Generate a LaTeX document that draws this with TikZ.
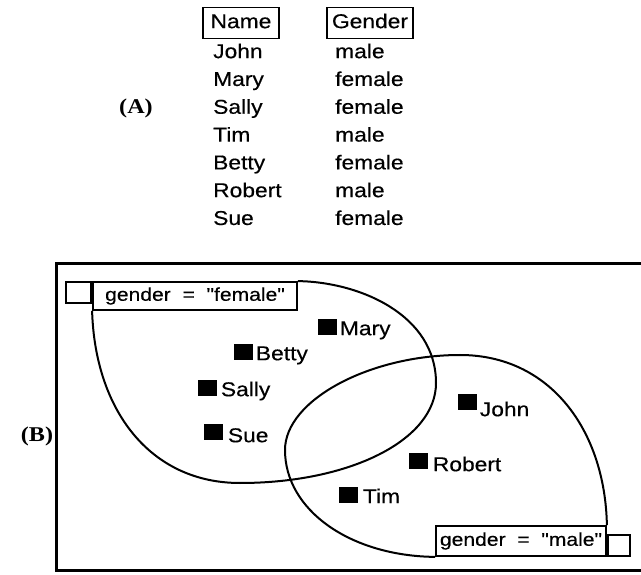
\documentclass[tikz,border=0pt]{standalone}
\usepackage{fontspec}
\setmainfont{Liberation Sans}[Ligatures=TeXOff,FakeStretch=1.14,FakeBold=0.4]
\newfontfamily\tagfont{Liberation Serif}[FakeStretch=1.15]
\usetikzlibrary{positioning}
\begin{document}
\begin{tikzpicture}[x=1pt,y=-1pt,
    txt/.style={inner sep=0pt,font=\fontsize{20}{23}\selectfont,text height=14.3pt,text depth=4pt},
    hdr/.style={txt,draw,line width=1.8pt,minimum height=31pt},
    cell/.style={txt,anchor=west},
    tagl/.style={inner sep=0pt,font=\tagfont\bfseries\fontsize{21}{25}\selectfont},
    gbox/.style={draw,line width=1.8pt,inner sep=0pt,font=\fontsize{18.5}{22}\selectfont},
    tab/.style={draw,line width=1.8pt,inner sep=0pt},
    mem/.style={fill=black,inner sep=0pt,minimum width=19pt,minimum height=16pt},
    who/.style={inner sep=0pt,anchor=base west,font=\fontsize{20}{23}\selectfont},
    set/.style={line width=2pt}
]
\useasboundingbox (0,0) rectangle (641,575);

% (A) table
\node[tagl] (taga) at (136,108) {(A)};
\node[hdr,minimum width=76pt] (namehd) at (241,23) {Name};
\node[hdr,minimum width=86pt] (gendhd) at (370,23) {Gender};
\foreach \nm/\gd [count=\i] in {John/male,Mary/female,Sally/female,Tim/male,Betty/female,Robert/male,Sue/female}{
  \node[cell] (nm\i) at (213,{25.2+27.8*\i}) {\nm};
  \node[cell] (gd\i) at (335,{25.2+27.8*\i}) {\gd};
}

% (B) sets
\node[tagl] (tagb) at (37,436) {(B)};
\draw[line width=3pt] (650,264) -| (56,570) -- (650,570);

\node[gbox,minimum width=204pt,minimum height=28pt] (fbox) at (195,296) {gender\ \ =\ \ "female"};
\node[tab,minimum width=25pt,minimum height=21pt,anchor=north east] (ftab) at (fbox.north west) {};
\draw[set] (fbox.south west) .. controls (95,410) and (150,483) .. (240,483)
  .. controls (350,483) and (436,440) .. (436,383)
  .. controls (436,315) and (360,282) .. (fbox.north east);

\node[gbox,minimum width=170pt,minimum height=30pt] (mbox) at (521,541) {gender\ \ =\ \ "male"};
\node[tab,minimum width=22pt,minimum height=21pt,anchor=south west] (mtab) at (mbox.south east) {};
\draw[set] (mbox.north east) .. controls (605,430) and (550,355) .. (460,355)
  .. controls (370,355) and (285,400) .. (285,450)
  .. controls (285,510) and (350,556) .. (mbox.south west);

\node[mem] (mary) at (327,327) {};
\node[who] (maryl) at ([xshift=3pt]mary.south east) {Mary};
\node[mem] (betty) at (243,352) {};
\node[who] (bettyl) at ([xshift=3pt]betty.south east) {Betty};
\node[mem] (sally) at (207,388) {};
\node[who] (sallyl) at ([xshift=4pt]sally.south east) {Sally};
\node[mem] (sue) at (213,432) {};
\node[who] (suel) at ([xshift=5pt,yshift=-2pt]sue.south east) {Sue};
\node[mem] (john) at (467,402) {};
\node[who] (johnl) at ([xshift=3pt,yshift=-6pt]john.south east) {John};
\node[mem] (robert) at (418,461) {};
\node[who] (robertl) at ([xshift=5pt,yshift=-2pt]robert.south east) {Robert};
\node[mem] (tim) at (348,495) {};
\node[who] (timl) at ([xshift=5pt]tim.south east) {Tim};
\end{tikzpicture}
\end{document}
